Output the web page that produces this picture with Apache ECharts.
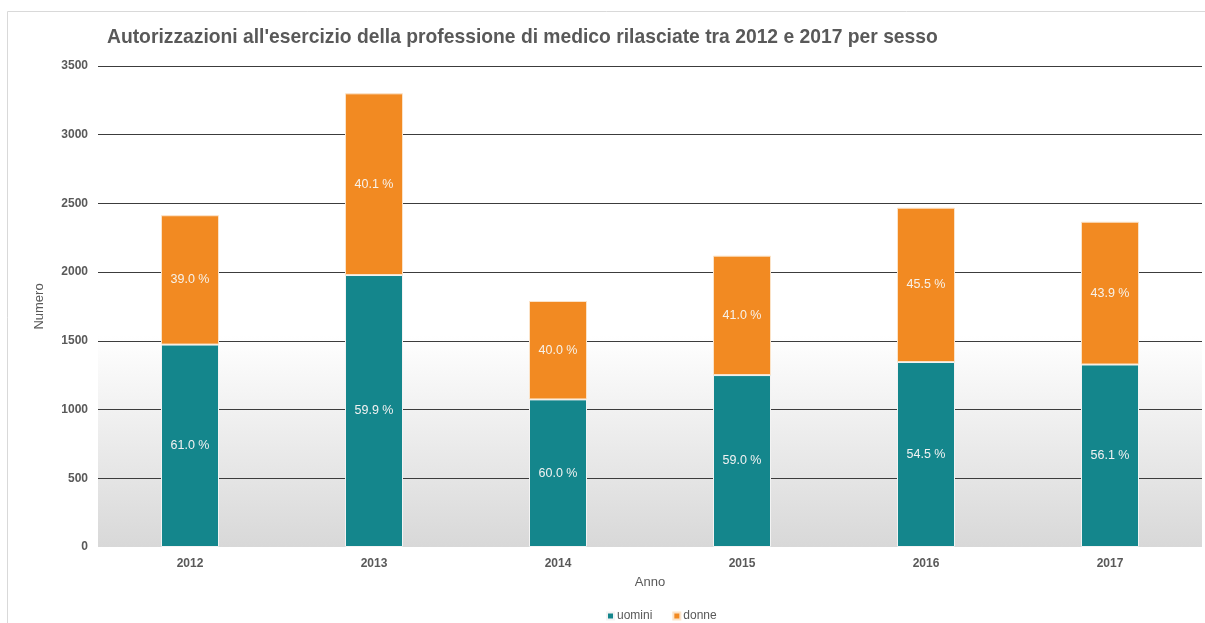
<!DOCTYPE html>
<html>
<head>
<meta charset="utf-8">
<script src="https://cdn.jsdelivr.net/npm/echarts@6/dist/echarts.min.js"></script>
<style>
html,body{margin:0;padding:0;background:#fff;}
#chart{width:1205px;height:623px;}
</style>
</head>
<body>
<div id="chart"></div>
<script>
const categories = ['2012', '2013', '2014', '2015', '2016', '2017'];
const uomini = [1473, 1979, 1074, 1251, 1346, 1328];
const donne = [941, 1322, 716, 869, 1123, 1039];
const uominiLabels = ['61.0 %', '59.9 %', '60.0 %', '59.0 %', '54.5 %', '56.1 %'];
const donneLabels = ['39.0 %', '40.1 %', '40.0 %', '41.0 %', '45.5 %', '43.9 %'];
const yTicks = { min: 0, max: 3500, interval: 500 };

const chart = echarts.init(document.getElementById('chart'), null, { renderer: 'canvas' });
const font = '"Liberation Sans", Arial, sans-serif';
const gridColor = '#3c3c3c';

chart.setOption({
  animation: false,
  textStyle: { fontFamily: font },
  graphic: [{
    type: 'rect',
    shape: { x: 7.5, y: 11.5, width: 1210, height: 640 },
    style: { fill: 'none', stroke: '#d9d9d9', lineWidth: 1 },
    silent: true,
    z: -10
  }],
  title: {
    text: "Autorizzazioni all'esercizio della professione di medico rilasciate tra 2012 e 2017 per sesso",
    left: 102,
    top: 23,
    textStyle: { fontFamily: font, fontSize: 19.3, fontWeight: 'bold', color: '#595959' }
  },
  legend: {
    top: 605,
    left: 601,
    icon: 'rect',
    itemWidth: 7,
    itemHeight: 7,
    itemGap: 20,
    textStyle: { fontFamily: font, fontSize: 12, color: '#595959', padding: [0, 0, 0, -2] },
    data: ['uomini', 'donne']
  },
  grid: {
    left: 98,
    right: 3,
    top: 66,
    bottom: 76,
    show: true,
    borderWidth: 0,
    backgroundColor: {
      type: 'linear', x: 0, y: 0, x2: 0, y2: 1,
      colorStops: [
        { offset: 0, color: '#ffffff' },
        { offset: 0.56, color: '#ffffff' },
        { offset: 1, color: '#d8d8d8' }
      ]
    }
  },
  xAxis: {
    type: 'category',
    data: categories,
    name: 'Anno',
    nameLocation: 'middle',
    nameGap: 29,
    nameTextStyle: { fontFamily: font, fontSize: 13, color: '#595959' },
    axisLine: { show: false },
    axisTick: { show: false },
    axisLabel: { fontFamily: font, fontSize: 12, fontWeight: 'bold', color: '#595959', margin: 11 }
  },
  yAxis: {
    type: 'value',
    min: yTicks.min,
    max: yTicks.max,
    interval: yTicks.interval,
    name: 'Numero',
    nameLocation: 'middle',
    nameGap: 52,
    nameTextStyle: { fontFamily: font, fontSize: 13, color: '#595959' },
    axisLine: { show: false },
    axisTick: { show: false },
    axisLabel: { fontFamily: font, fontSize: 12, fontWeight: 'bold', color: '#595959', margin: 10, formatter: v => String(v) },
    splitLine: { lineStyle: { color: ['rgba(0,0,0,0)', gridColor, gridColor, gridColor, gridColor, gridColor, gridColor, gridColor], width: 1 } }
  },
  series: [
    {
      name: 'uomini',
      type: 'bar',
      stack: 'tot',
      barWidth: 58,
      data: uomini,
      itemStyle: { color: '#14868c', borderColor: '#f3f3f3', borderWidth: 1 },
      label: {
        show: true,
        position: 'inside',
        fontFamily: font,
        fontSize: 12.5,
        color: '#f2f2f2',
        formatter: p => uominiLabels[p.dataIndex]
      }
    },
    {
      name: 'donne',
      type: 'bar',
      stack: 'tot',
      barWidth: 58,
      data: donne,
      itemStyle: { color: '#f28a22', borderColor: '#fbe3c8', borderWidth: 1 },
      label: {
        show: true,
        position: 'inside',
        fontFamily: font,
        fontSize: 12.5,
        color: '#f7f2ea',
        formatter: p => donneLabels[p.dataIndex]
      }
    }
  ]
});
</script>
</body>
</html>
